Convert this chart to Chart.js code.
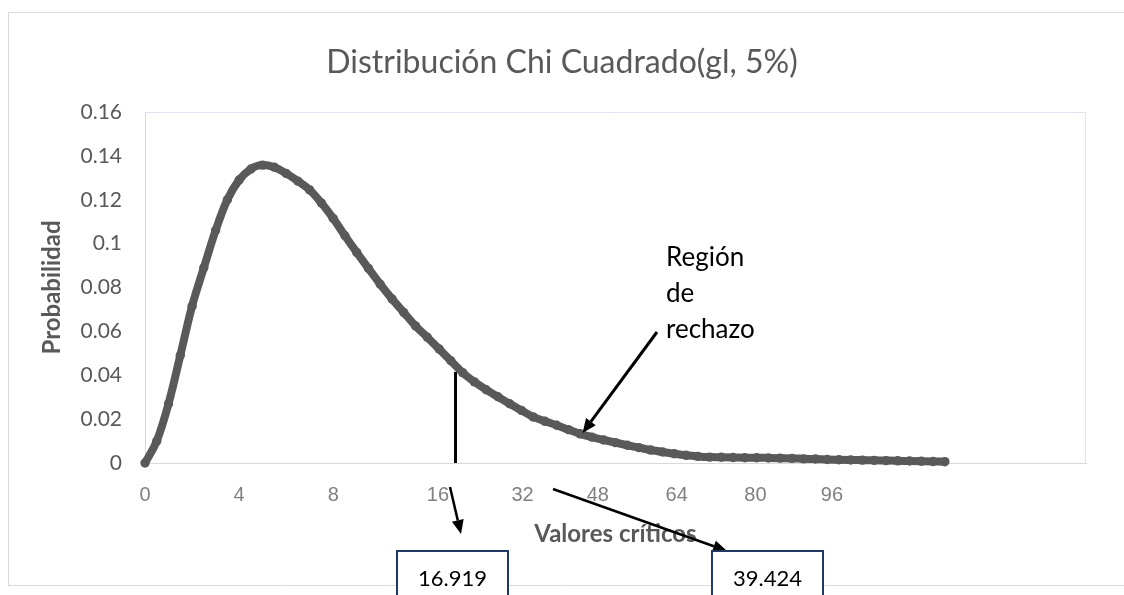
<!DOCTYPE html>
<html>
<head>
<meta charset="utf-8">
<title>Distribución Chi Cuadrado</title>
<script src="https://cdn.jsdelivr.net/npm/chart.js"></script>
<style>
  html, body { margin: 0; padding: 0; background: #fff; }
  #wrap { position: relative; width: 1124px; height: 595px; }
</style>
</head>
<body>
<div id="wrap"><canvas id="myChart" width="1124" height="595"></canvas></div>
<script>
const chartTitle = "Distribución Chi Cuadrado(gl, 5%)";
const xAxisTitle = "Valores críticos";
const yAxisTitle = "Probabilidad";

// curve
const xValues = [
  0, 0.5, 1, 1.5, 2, 2.5, 3, 3.5, 4, 4.5, 5, 5.5, 6, 6.5, 7, 7.5, 8, 8.5, 9, 9.5,
  10, 10.5, 11, 11.5, 12, 12.5, 13, 13.5, 14, 14.5, 15, 15.5, 16, 16.5, 17, 17.5,
  18, 18.5, 19, 19.5, 20, 20.5, 21, 21.5, 22, 22.5, 23, 23.5, 24, 24.5, 25, 25.5,
  26, 26.5, 27, 27.5, 28, 28.5, 29, 29.5, 30, 30.5, 31, 31.5, 32, 32.5, 33, 33.5, 34
];
const probValues = [
  0.0000, 0.0100, 0.0270, 0.0490, 0.0715, 0.0890, 0.1060, 0.1200, 0.1290, 0.1340,
  0.1358, 0.1348, 0.1320, 0.1285, 0.1245, 0.1185, 0.1115, 0.1036, 0.0960, 0.0887,
  0.0815, 0.0748, 0.0686, 0.0625, 0.0573, 0.0520, 0.0466, 0.0412, 0.0370, 0.0334,
  0.0302, 0.0270, 0.0240, 0.0210, 0.0190, 0.0172, 0.0152, 0.0133, 0.0118, 0.0105,
  0.0093, 0.0081, 0.0070, 0.0059, 0.0050, 0.0042, 0.0035, 0.0030, 0.0027, 0.0026,
  0.0025, 0.0024, 0.0024, 0.0023, 0.0022, 0.0021, 0.0019, 0.0018, 0.0016, 0.0015,
  0.0014, 0.0013, 0.0012, 0.0011, 0.0010, 0.0009, 0.0008, 0.0007, 0.0006
];

// hand placed axis labels of the original
const tickPositions = [0, 4, 8, 12.45, 16.05, 19.25, 22.6, 25.95, 29.2];
const tickLabels = ["0", "4", "8", "16", "32", "48", "64", "80", "96"];

// annotations
const criticalX = 13.2;
const criticalY = 0.0415;
const rejectPointX = 18.6;
const rejectPointY = 0.0137;
const regionText = ["Región", "de", "rechazo"];
const criticalLabels = ["16.919", "39.424"];

const GREY = "#595959";

function drawArrow(ctx, x1, y1, x2, y2, width) {
  const ang = Math.atan2(y2 - y1, x2 - x1);
  const headLen = 14, headHalf = 6;
  const bx = x2 - headLen * Math.cos(ang), by = y2 - headLen * Math.sin(ang);
  ctx.save();
  ctx.strokeStyle = "#000";
  ctx.fillStyle = "#000";
  ctx.lineWidth = width;
  ctx.beginPath();
  ctx.moveTo(x1, y1);
  ctx.lineTo(bx, by);
  ctx.stroke();
  ctx.beginPath();
  ctx.moveTo(x2, y2);
  ctx.lineTo(bx + headHalf * Math.sin(ang), by - headHalf * Math.cos(ang));
  ctx.lineTo(bx - headHalf * Math.sin(ang), by + headHalf * Math.cos(ang));
  ctx.closePath();
  ctx.fill();
  ctx.restore();
}

function drawBox(ctx, left, text) {
  ctx.save();
  ctx.fillStyle = "#fff";
  ctx.fillRect(left, 551, 111, 60);
  ctx.strokeStyle = "#1f3864";
  ctx.lineWidth = 2;
  ctx.strokeRect(left, 551, 111, 60);
  ctx.fillStyle = "#000";
  ctx.font = "22px Lato";
  ctx.textAlign = "center";
  ctx.textBaseline = "alphabetic";
  ctx.fillText(text, left + 55.5, 586);
  ctx.restore();
}

const decorPlugin = {
  id: "decor",
  beforeDraw(chart) {
    const ctx = chart.ctx;
    ctx.save();
    ctx.fillStyle = "#fff";
    ctx.fillRect(0, 0, chart.width, chart.height);
    // outer chart frame
    ctx.strokeStyle = "#d9d9d9";
    ctx.lineWidth = 1;
    ctx.beginPath();
    ctx.moveTo(chart.width, 12.5);
    ctx.lineTo(8.5, 12.5);
    ctx.lineTo(8.5, 585.5);
    ctx.lineTo(chart.width, 585.5);
    ctx.stroke();
    // plot area frame
    const a = chart.chartArea;
    ctx.strokeStyle = "#dfe6f3";
    ctx.beginPath();
    ctx.moveTo(a.left, a.top + 0.5);
    ctx.lineTo(a.right - 0.5, a.top + 0.5);
    ctx.lineTo(a.right - 0.5, a.bottom);
    ctx.stroke();
    // title
    ctx.fillStyle = GREY;
    ctx.font = "32px Lato";
    ctx.textAlign = "center";
    ctx.textBaseline = "alphabetic";
    ctx.fillText(chartTitle, 562, 73);
    ctx.restore();
  },
  afterDraw(chart) {
    const ctx = chart.ctx;
    const xs = chart.scales.x, ys = chart.scales.y;
    // critical value marker
    const cx = xs.getPixelForValue(criticalX);
    ctx.save();
    ctx.strokeStyle = "#000";
    ctx.lineWidth = 3;
    ctx.beginPath();
    ctx.moveTo(cx, ys.getPixelForValue(criticalY));
    ctx.lineTo(cx, ys.getPixelForValue(0));
    ctx.stroke();
    // rejection region label
    ctx.fillStyle = "#000";
    ctx.font = "26px Lato";
    ctx.textAlign = "left";
    regionText.forEach((t, i) => ctx.fillText(t, 666, 266 + i * 36));
    ctx.restore();
    drawArrow(ctx, 657, 332, xs.getPixelForValue(rejectPointX), ys.getPixelForValue(rejectPointY), 3);
    drawArrow(ctx, 450, 487, 461, 534, 2.5);
    drawArrow(ctx, 553, 489, 727, 551, 2.5);
    drawBox(ctx, 397, criticalLabels[0]);
    drawBox(ctx, 712, criticalLabels[1]);
  }
};

const ctx = document.getElementById("myChart");
const myChart = new Chart(ctx, {
  type: "line",
  data: {
    datasets: [{
      label: "Probabilidad",
      data: xValues.map((x, i) => ({ x: x, y: probValues[i] })),
      borderColor: GREY,
      backgroundColor: GREY,
      borderWidth: 8,
      pointRadius: 4.7,
      pointHoverRadius: 4.7,
      pointBorderWidth: 0,
      cubicInterpolationMode: "monotone",
      fill: false,
      clip: false
    }]
  },
  options: {
    responsive: false,
    devicePixelRatio: 1,
    animation: false,
    layout: { padding: { top: 112, right: 38, bottom: 0, left: 0 } },
    plugins: {
      legend: { display: false },
      tooltip: { enabled: false },
      title: { display: false }
    },
    scales: {
      x: {
        type: "linear",
        min: 0,
        max: 40,
        afterBuildTicks(scale) {
          scale.ticks = tickPositions.map(v => ({ value: v }));
        },
        afterFit(scale) { scale.height = 132; },
        ticks: {
          autoSkip: false,
          maxRotation: 0,
          padding: 20,
          color: "#808080",
          font: { family: "Liberation Sans", size: 20 },
          callback: (v, i) => tickLabels[i]
        },
        grid: { display: false, drawTicks: false },
        border: { display: true, color: "#d9d9d9", width: 1 },
        title: {
          display: true,
          text: xAxisTitle,
          color: GREY,
          font: { family: "Lato", size: 24, weight: "bold" },
          padding: { top: 0, bottom: 46 }
        }
      },
      y: {
        min: 0,
        max: 0.16,
        afterFit(scale) { scale.width = 145; },
        ticks: {
          stepSize: 0.02,
          padding: 23,
          color: GREY,
          font: { family: "Lato", size: 21 },
          callback: v => String(parseFloat(v.toFixed(2)))
        },
        grid: { display: false, drawTicks: false },
        border: { display: true, color: "#d9d9d9", width: 1 },
        title: {
          display: true,
          text: yAxisTitle,
          color: GREY,
          font: { family: "Lato", size: 24, weight: "bold" },
          padding: { top: 38, bottom: 0 }
        }
      }
    }
  },
  plugins: [decorPlugin]
});
</script>
</body>
</html>
